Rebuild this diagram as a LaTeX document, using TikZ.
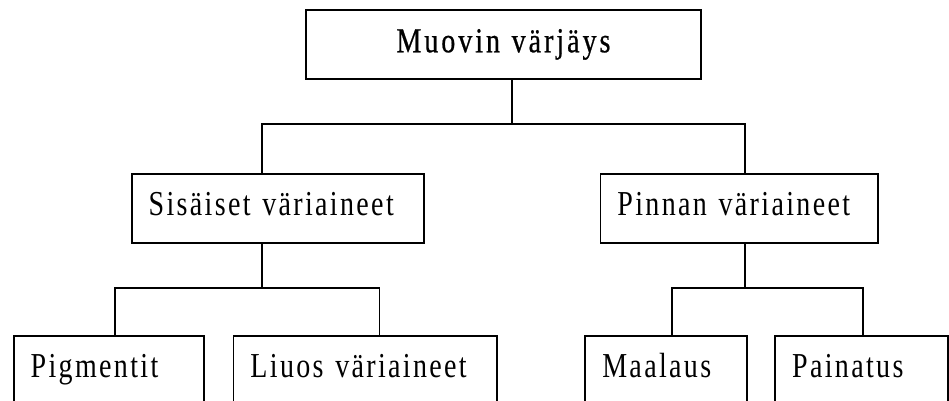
\documentclass[tikz,border=0pt]{standalone}
\usepackage{fontspec}
\setmainfont{Liberation Serif}[FakeStretch=0.8, LetterSpace=6.7]
\newfontfamily\topfont{Liberation Serif}[FakeStretch=0.8, LetterSpace=8.5, FakeBold=0.6]
\begin{document}
\begin{tikzpicture}[x=1pt, y=-1pt,
  box/.style={draw=black, line width=1.9pt, rectangle, anchor=north west,
    inner xsep=17pt, inner ysep=0pt, text height=42pt, text depth=27pt,
    align=left, font=\fontsize{35}{40}\selectfont},
  conn/.style={draw=black, line width=1.8pt}]
\useasboundingbox (0,0) rectangle (949,400);
\clip (0,0) rectangle (949,400);
% boxes
\node[box, align=center, inner xsep=0pt, text width=395pt, font=\fontsize{35}{40}\selectfont\topfont] (top) at (305,9.3) {Muovin värjäys};
\node[box, text width=258.3pt] (midL) at (130.7,172.7) {Sisäiset väriaineet};
\node[box, text width=243.8pt] (midR) at (599.5,172.7) {Pinnan väriaineet};
\node[box, text width=156.3pt] (b1) at (12.7,335) {Pigmentit};
\node[box, text width=229.5pt] (b2) at (232.5,335) {Liuos väriaineet};
\node[box, text width=127.4pt] (b3) at (584.3,335) {Maalaus};
\node[box, text width=138.8pt] (b4) at (774.2,335) {Painatus};
% junctions
\coordinate (j0) at (511.7,124);
\coordinate (jL) at (262,124);
\coordinate (jR) at (745.3,124);
\coordinate (kL) at (262,288.3);
\coordinate (kL1) at (115,288.3);
\coordinate (kL2) at (379.5,288.3);
\coordinate (kR) at (745.3,288.3);
\coordinate (kR1) at (672.3,288.3);
\coordinate (kR2) at (863.3,288.3);
% connectors
\draw[conn] (j0 |- top.south) -- (j0);
\draw[conn] (jL |- midL.north) -- (jL) -- (jR) -- (jR |- midR.north);
\draw[conn] (kL |- midL.south) -- (kL);
\draw[conn] (kL1 |- b1.north) -- (kL1) -- (kL2) -- (kL2 |- b2.north);
\draw[conn] (kR |- midR.south) -- (kR);
\draw[conn] (kR1 |- b3.north) -- (kR1) -- (kR2) -- (kR2 |- b4.north);
\end{tikzpicture}
\end{document}
